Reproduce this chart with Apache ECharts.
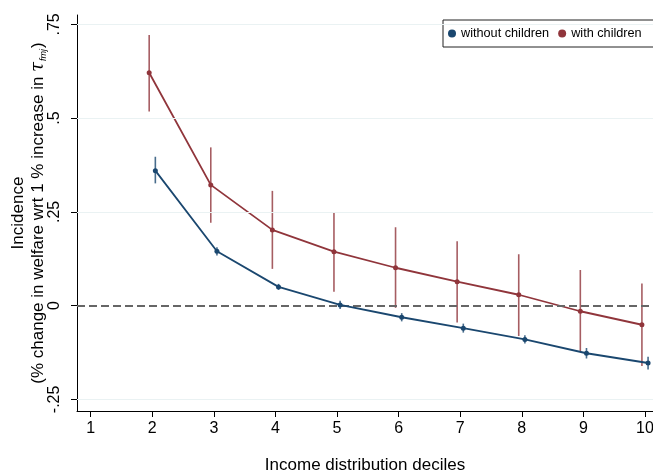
<!DOCTYPE html>
<html>
<head>
<meta charset="utf-8">
<script src="https://cdn.jsdelivr.net/npm/echarts@6/dist/echarts.min.js"></script>
<style>
html,body{margin:0;padding:0;background:#fff;}
#chart{width:653px;height:476px;}
</style>
</head>
<body>
<div id="chart"></div>
<script>
// ---- data ----
const deciles = [2, 3, 4, 5, 6, 7, 8, 9, 10];
const xTicks = [1, 2, 3, 4, 5, 6, 7, 8, 9, 10];
const yTicks = [-0.25, 0, 0.25, 0.5, 0.75];
const yTickLabels = ['-.25', '0', '.25', '.5', '.75'];

const withoutChildren   = [0.360, 0.145, 0.050, 0.002, -0.031, -0.060, -0.090, -0.127, -0.153];
const withoutChildrenLo = [0.326, 0.134, 0.042, -0.009, -0.042, -0.072, -0.101, -0.141, -0.170];
const withoutChildrenHi = [0.397, 0.156, 0.058, 0.013, -0.020, -0.048, -0.079, -0.113, -0.136];

const withChildren   = [0.621, 0.322, 0.202, 0.144, 0.101, 0.064, 0.029, -0.015, -0.051];
const withChildrenLo = [0.518, 0.221, 0.098, 0.037, -0.006, -0.045, -0.081, -0.121, -0.161];
const withChildrenHi = [0.722, 0.422, 0.306, 0.249, 0.209, 0.172, 0.137, 0.095, 0.059];

const BLUE = '#1a476f';
const RED = '#90353b';
const shiftBlue = 0.05, shiftRed = -0.05;

const pts = (vals, shift) => deciles.map((d, i) => [d + shift, vals[i]]);
const bars = (lo, hi, shift) => deciles.map((d, i) => [d + shift, lo[i], hi[i]]);

function errRender(color) {
  return function (params, api) {
    const x = api.value(0);
    const p1 = api.coord([x, api.value(1)]);
    const p2 = api.coord([x, api.value(2)]);
    return {
      type: 'line',
      shape: { x1: p1[0], y1: p1[1], x2: p2[0], y2: p2[1] },
      style: { stroke: color, lineWidth: 1.6, opacity: 0.8 }
    };
  };
}

const chart = echarts.init(document.getElementById('chart'), null, { renderer: 'canvas' });
const FONT = 'Liberation Sans, Arial, Helvetica, sans-serif';

chart.setOption({
  animation: false,
  backgroundColor: '#fff',
  textStyle: { fontFamily: FONT, color: '#000' },
  grid: { left: 77, right: 0, top: 15, bottom: 65, containLabel: false, outerBoundsMode: 'none' },
  legend: {
    left: 443, top: 20, width: 300,
    orient: 'horizontal',
    padding: [7, 24, 7, 5],
    itemGap: 9,
    itemWidth: 8, itemHeight: 8,
    borderColor: '#222', borderWidth: 1, backgroundColor: '#fff',
    textStyle: { fontSize: 12.7, color: '#000', fontFamily: FONT },
    data: [
      { name: 'without children', icon: 'circle' },
      { name: 'with children', icon: 'circle' }
    ]
  },
  xAxis: {
    type: 'value', min: 0.778, max: 10.13,
    name: 'Income distribution deciles',
    nameLocation: 'middle', nameGap: 46, nameMoveOverlap: false,
    nameTextStyle: { fontSize: 17, color: '#000', fontFamily: FONT },
    axisLine: { show: true, onZero: false, lineStyle: { color: '#000', width: 1 } },
    axisTick: { show: true, length: 6, customValues: xTicks, lineStyle: { color: '#000' } },
    axisLabel: { customValues: xTicks, fontSize: 16, color: '#000', margin: 10, fontFamily: FONT },
    splitLine: { show: false }
  },
  yAxis: {
    type: 'value', min: -0.281, max: 0.775,
    name: '{a|Incidence}\n{a|(% change in welfare wrt 1 % increase in }{t|τ}{s|fmj}{a|)}',
    nameLocation: 'middle', nameRotate: 90, nameGap: 29, nameMoveOverlap: false,
    nameTextStyle: {
      fontFamily: FONT, color: '#000', align: 'center',
      rich: {
        a: { fontSize: 17, color: '#000', fontFamily: FONT, lineHeight: 20 },
        t: { fontSize: 18, color: '#000', fontStyle: 'italic', fontFamily: 'DejaVu Serif, serif', lineHeight: 20 },
        s: { fontSize: 9, color: '#000', fontStyle: 'italic', fontFamily: FONT, verticalAlign: 'bottom', lineHeight: 20, padding: [8, 1, 0, 1] }
      }
    },
    axisLine: { show: true, onZero: false, lineStyle: { color: '#000', width: 1 } },
    axisTick: { show: true, length: 6, customValues: yTicks, lineStyle: { color: '#000' } },
    axisLabel: {
      customValues: yTicks, rotate: 90, fontSize: 16, color: '#000', margin: 14, fontFamily: FONT,
      formatter: v => {
        const i = yTicks.findIndex(t => Math.abs(t - v) < 1e-9);
        return i >= 0 ? yTickLabels[i] : '';
      }
    },
    splitLine: { show: false }
  },
  series: [
    {
      name: 'grid', type: 'line', data: [], silent: true,
      markLine: {
        silent: true, symbol: 'none', label: { show: false },
        lineStyle: { color: '#eaf2f3', width: 1, type: 'solid' },
        data: yTicks.filter(t => t !== 0).map(t => ({ yAxis: t }))
      }
    },
    {
      name: 'zero', type: 'line', data: [], silent: true,
      markLine: {
        silent: true, symbol: 'none', label: { show: false },
        lineStyle: { color: '#666', width: 1.8, type: [8, 4] },
        data: [{ yAxis: 0 }]
      },
      z: 3
    },
    {
      name: 'with children', type: 'line', data: pts(withChildren, shiftRed),
      color: RED, symbol: 'circle', symbolSize: 5, showSymbol: true,
      lineStyle: { color: RED, width: 1.8 }, itemStyle: { color: RED }, z: 4
    },
    {
      name: 'with children ci', type: 'custom', data: bars(withChildrenLo, withChildrenHi, shiftRed),
      renderItem: errRender(RED), encode: { x: 0, y: [1, 2] }, z: 4, silent: true
    },
    {
      name: 'without children', type: 'line', data: pts(withoutChildren, shiftBlue),
      color: BLUE, symbol: 'circle', symbolSize: 5, showSymbol: true,
      lineStyle: { color: BLUE, width: 1.8 }, itemStyle: { color: BLUE }, z: 5
    },
    {
      name: 'without children ci', type: 'custom', data: bars(withoutChildrenLo, withoutChildrenHi, shiftBlue),
      renderItem: errRender(BLUE), encode: { x: 0, y: [1, 2] }, z: 5, silent: true
    }
  ]
});
</script>
</body>
</html>
